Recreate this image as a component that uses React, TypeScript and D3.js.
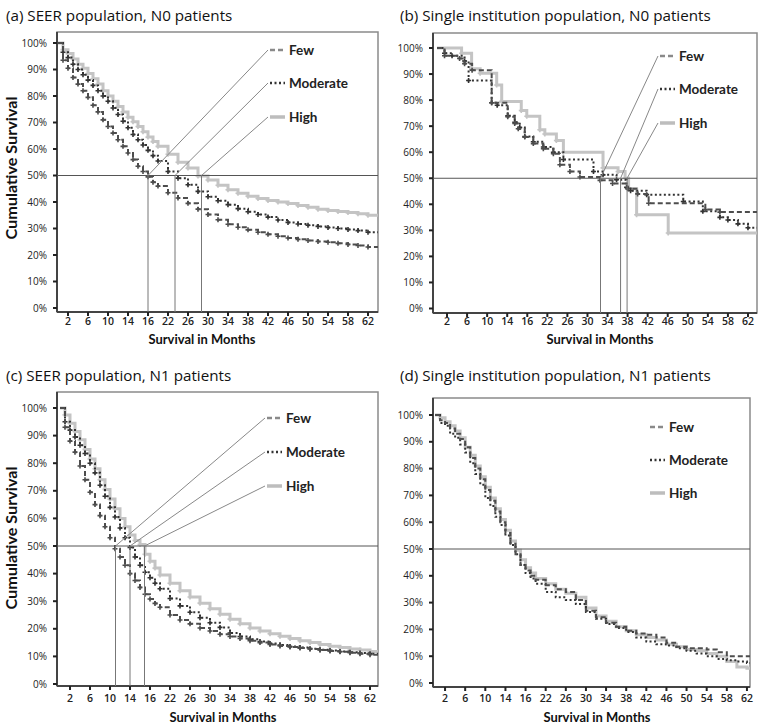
import React from "react";
import * as d3 from "d3";

// ---------- data ----------
const SERIES_NAMES = ["Few", "Moderate", "High"];

// monthly grid used for the SEER panels and panel (d)
const GRID_T = [0, 1, 2, 3, 4, 5, 6, 7, 8, 9, 10, 11, 12, 13, 14, 15, 16, 17, 18, 19, 20,
  22, 24, 26, 28, 30, 32, 34, 36, 38, 40, 42, 44, 46, 48, 50, 52, 54, 56, 58, 60, 62];

// (a) SEER, N0
const A_FEW = [100, 93.5, 90.5, 87, 84.5, 82, 79.5, 76.5, 74, 71, 68.5, 66, 63.5, 61, 58.5, 56, 53.5, 51.5, 49.5, 47.5, 46,
  43.5, 41.5, 39.5, 37.3, 35.3, 33.3, 31.6, 30.5, 29.5, 28.6, 27.8, 27.1, 26.4, 25.9, 25.5, 25.1, 24.8, 24.4, 24, 23.6, 23];
const A_MOD = [100, 96.5, 94.5, 92, 90, 88, 86, 84, 82, 80, 78, 75.5, 73, 70.5, 68, 65.5, 63.5, 61.5, 59.5, 57.5, 55.5,
  51.5, 49, 46.5, 44, 42, 40.5, 39, 37.5, 36.3, 35.3, 34.3, 33.2, 32.3, 31.7, 31.2, 30.8, 30.4, 30, 29.6, 29.2, 28.6];
const A_HIGH = [100, 97.5, 96, 94, 92, 90.5, 88.5, 86.5, 84.5, 82, 80, 78, 76, 74, 72, 70.3, 68.5, 66.5, 64.5, 62.8, 61,
  58, 55, 52.8, 49.8, 48.3, 46.3, 44.6, 43.3, 42.2, 41.3, 40.6, 40, 39.4, 38.7, 38, 37.3, 36.8, 36.4, 36, 35.6, 35];
const A_MEDIANS = [18, 23.4, 28.7];

// (b) single institution, N0 (irregular Kaplan-Meier steps)
const B_FEW_T = [0, 1.5, 4.5, 5.5, 7, 10.9, 14.1, 15.5, 16.2, 17.5, 19.2, 21.2, 23.2, 24.5, 26.5, 28.5, 32.5, 35, 38, 40, 42.2, 53.5, 56.4];
const B_FEW_S = [100, 97, 96, 94, 91.5, 79, 73.6, 71, 69, 65.8, 63.3, 61.3, 59.4, 55.2, 52.6, 50.5, 49.2, 48, 46, 44, 40.4, 38, 37];
const B_MOD_T = [0, 1.5, 3, 5.5, 6.3, 10.9, 12, 14.1, 15.5, 16.5, 17.5, 19.2, 21.2, 23.2, 25.2, 31.2, 33.1, 35.8, 37.8, 38.6, 41.8, 49.1, 53, 56.4, 58, 60, 62];
const B_MOD_S = [100, 98, 97, 95, 87.5, 79, 78, 74, 71.5, 69.5, 66, 64, 62, 60, 57.2, 52.6, 51.3, 49.4, 46.5, 45.2, 43.7, 41.1, 37.3, 35, 34, 32.5, 31];
const B_HIGH_T = [0, 4.9, 6.9, 8.6, 11.9, 12.9, 16.8, 17.9, 20.5, 21.5, 23.8, 25.2, 33.1, 36.1, 37.5, 38.2, 39.8, 46.1];
const B_HIGH_S = [100, 98, 92, 90.3, 85.8, 79.5, 76, 73.8, 68.6, 67, 64.5, 60, 54, 52.6, 50, 46, 36, 29];
const B_MEDIANS = [32.6, 36.6, 37.9];

// (c) SEER, N1
const C_FEW = [100, 93, 88, 84, 79, 74, 69.5, 65, 61, 57, 53, 49, 46, 43, 40, 37.5, 35, 32.5, 30.8, 29.2, 27.8,
  25, 23.2, 21.8, 20.3, 19.2, 18, 17.2, 16.5, 15.7, 15, 14.3, 13.8, 13.4, 13, 12.7, 12.3, 12, 11.7, 11.3, 11, 10.6];
const C_MOD = [100, 95, 92, 89.5, 86.5, 83.5, 80, 76.5, 72, 68, 64, 60.5, 56.5, 53, 49.5, 46, 43, 40.5, 38.5, 36.5, 34.5,
  31, 28.3, 26, 24, 22.2, 20.5, 18.5, 17.2, 16.2, 15.4, 14.7, 14.1, 13.6, 13.2, 12.8, 12.4, 12.1, 11.8, 11.5, 11.2, 11];
const C_HIGH = [100, 97.5, 94.5, 91.5, 88.5, 85, 81.5, 78, 74, 70.5, 67, 63.5, 60, 57, 54, 52, 50.5, 47, 44.5, 42, 39.5,
  36.5, 33.8, 31.5, 29.3, 27.3, 25.3, 23.5, 21.8, 20.3, 19.2, 18.2, 17.3, 16.5, 15.7, 15, 14.3, 13.7, 13.2, 12.7, 12.3, 11.8];
const C_MEDIANS = [11.1, 14, 16.9];

// (d) single institution, N1
const D_FEW = [100, 98, 97, 95, 93, 91, 88, 84, 80, 76, 72, 68, 64, 60, 56, 52, 48, 44, 42, 40, 38.5,
  36.5, 35, 34, 31, 27, 24.5, 22.5, 21, 19.5, 18.5, 18, 17, 15, 13.5, 13, 13, 12.5, 11.5, 10, 10, 10];
const D_MOD = [100, 97, 96, 93, 91.5, 89, 86, 82, 78, 74, 69, 66, 62, 59, 55, 51.5, 48, 44, 41, 39, 37,
  34, 32, 31, 29.5, 26.5, 24, 22, 20.5, 19, 17, 15.5, 14.5, 14, 13, 12, 11, 10, 9, 8.5, 8, 7.5];
const D_HIGH = [100, 99, 97.5, 96, 94, 91.5, 88, 85, 81, 77, 73, 69, 65, 61, 57, 53, 49.5, 46, 43, 41, 39,
  37, 35, 33.5, 32, 28, 25, 23, 21, 19.5, 18, 17, 16, 14.5, 13.5, 12.5, 12, 11, 10, 8, 6, 5.5];

const X_TICK_MONTHS = [2, 6, 10, 14, 18, 22, 26, 30, 34, 38, 42, 46, 50, 54, 58, 62];
const X_TICK_LABELS = ["2", "6", "10", "14", "16", "22", "26", "30", "34", "38", "42", "46", "50", "54", "58", "62"];
const Y_TICKS = [0, 10, 20, 30, 40, 50, 60, 70, 80, 90, 100];

const TITLES = [
  "(a) SEER population, N0 patients",
  "(b) Single institution population, N0 patients",
  "(c) SEER population, N1 patients",
  "(d) Single institution population, N1 patients",
];

// ---------- styles / layout ----------
const STYLE: Record<string, { stroke: string; width: number; dash: string | null; legend: string }> = {
  Few: { stroke: "#4d4d4d", width: 2, dash: "5 3", legend: "#8a8a8a" },
  Moderate: { stroke: "#333", width: 2, dash: "2 2.5", legend: "#333" },
  High: { stroke: "#c4c4c4", width: 3, dash: null, legend: "#bdbdbd" },
};
const FONT = "'Open Sans', 'Noto Sans', sans-serif";
const NARROW = "Lato, 'Open Sans', sans-serif";

type Series = { name: string; t: number[]; s: number[] };
type PanelCfg = {
  id: string; title: string; tx: number; ty: number;
  fx0: number; fx1: number; fy0: number; fy1: number;
  xr: [number, number]; yr: [number, number];
  series: Series[]; medians: number[] | null; marks: boolean;
  legX: number; legY: number[];
  ylab: { x: number; y: number } | null; xlabX: number; xlabY: number; tickY: number;
};

const PANELS: PanelCfg[] = [
  {
    id: "a", title: TITLES[0], tx: 6, ty: 21, fx0: 57, fx1: 378, fy0: 32, fy1: 312,
    xr: [58, 378], yr: [308, 43],
    series: [
      { name: "High", t: GRID_T, s: A_HIGH },
      { name: "Moderate", t: GRID_T, s: A_MOD },
      { name: "Few", t: GRID_T, s: A_FEW },
    ],
    medians: A_MEDIANS, marks: true, legX: 270, legY: [50, 83, 117],
    ylab: { x: 17, y: 168 }, xlabX: 202, xlabY: 344, tickY: 325,
  },
  {
    id: "b", title: TITLES[1], tx: 400, ty: 21, fx0: 433, fx1: 757, fy0: 33, fy1: 313,
    xr: [437, 758], yr: [308.5, 48],
    series: [
      { name: "High", t: B_HIGH_T, s: B_HIGH_S },
      { name: "Moderate", t: B_MOD_T, s: B_MOD_S },
      { name: "Few", t: B_FEW_T, s: B_FEW_S },
    ],
    medians: B_MEDIANS, marks: true, legX: 660, legY: [56, 89, 123],
    ylab: null, xlabX: 600, xlabY: 344, tickY: 325,
  },
  {
    id: "c", title: TITLES[2], tx: 6, ty: 381, fx0: 57, fx1: 378, fy0: 392, fy1: 686,
    xr: [60, 380], yr: [684, 408],
    series: [
      { name: "High", t: GRID_T, s: C_HIGH },
      { name: "Moderate", t: GRID_T, s: C_MOD },
      { name: "Few", t: GRID_T, s: C_FEW },
    ],
    medians: C_MEDIANS, marks: true, legX: 267, legY: [418, 452, 486],
    ylab: { x: 17, y: 538 }, xlabX: 223, xlabY: 722, tickY: 702,
  },
  {
    id: "d", title: TITLES[3], tx: 400, ty: 381, fx0: 433, fx1: 750, fy0: 398, fy1: 687,
    xr: [435, 757], yr: [683, 415],
    series: [
      { name: "High", t: GRID_T, s: D_HIGH },
      { name: "Moderate", t: GRID_T, s: D_MOD },
      { name: "Few", t: GRID_T, s: D_FEW },
    ],
    medians: null, marks: false, legX: 650, legY: [427, 460, 493],
    ylab: null, xlabX: 597, xlabY: 722, tickY: 702,
  },
];

function Panel({ cfg }: { cfg: PanelCfg }) {
  const x = d3.scaleLinear().domain([0, 64]).range(cfg.xr);
  const y = d3.scaleLinear().domain([0, 100]).range(cfg.yr);
  const line = d3.line<[number, number]>().x((d) => x(d[0])).y((d) => y(d[1])).curve(d3.curveStepAfter);
  const xEnd = x.invert(cfg.fx1);
  const clipId = "clip-" + cfg.id;
  const y50 = y(50);
  const legendIndex = (n: string) => SERIES_NAMES.indexOf(n);

  return (
    <g>
      <defs>
        <clipPath id={clipId}>
          <rect x={cfg.fx0} y={cfg.fy0} width={cfg.fx1 - cfg.fx0} height={cfg.fy1 - cfg.fy0} />
        </clipPath>
      </defs>
      <text x={cfg.tx} y={cfg.ty} fontFamily={FONT} fontSize={15.2} fill="#111">{cfg.title}</text>

      {/* frame */}
      <rect x={cfg.fx0} y={cfg.fy0} width={cfg.fx1 - cfg.fx0} height={cfg.fy1 - cfg.fy0}
        fill="#fff" stroke="#8a8a8a" strokeWidth={1.5} />
      <line x1={cfg.fx0} x2={cfg.fx0} y1={cfg.fy0} y2={cfg.fy1} stroke="#444" strokeWidth={2} />
      <line x1={cfg.fx0} x2={cfg.fx1} y1={cfg.fy1} y2={cfg.fy1} stroke="#444" strokeWidth={2} />

      {/* y axis */}
      {Y_TICKS.map((v) => (
        <g key={"y" + v}>
          <line x1={cfg.fx0 - 4} x2={cfg.fx0} y1={y(v)} y2={y(v)} stroke="#222" strokeWidth={2} />
          <text x={cfg.fx0 - 10} y={y(v)} dy="0.35em" textAnchor="end" fontFamily={FONT}
            fontSize={10} fill="#222">{v + "%"}</text>
        </g>
      ))}
      {/* x axis */}
      {X_TICK_MONTHS.map((m, i) => (
        <g key={"x" + m}>
          <line x1={x(m)} x2={x(m)} y1={cfg.fy1} y2={cfg.fy1 + 4} stroke="#222" strokeWidth={2} />
          <text x={x(m)} y={cfg.tickY} textAnchor="middle" fontFamily={FONT} fontSize={10.5}
            fontWeight={600} fill="#222">{X_TICK_LABELS[i]}</text>
        </g>
      ))}
      <text x={cfg.xlabX} y={cfg.xlabY} textAnchor="middle" fontFamily={NARROW} fontSize={14}
        fontWeight={700} fill="#111" textLength={107} lengthAdjust="spacingAndGlyphs">Survival in Months</text>
      {cfg.ylab && (
        <text transform={`translate(${cfg.ylab.x},${cfg.ylab.y}) rotate(-90)`} textAnchor="middle"
          fontFamily={NARROW} fontSize={14.5} fontWeight={700} fill="#111" textLength={143}
          lengthAdjust="spacingAndGlyphs">Cumulative Survival</text>
      )}

      {/* curves */}
      <g clipPath={`url(#${clipId})`}>
        {cfg.series.map((se) => {
          const st = STYLE[se.name];
          const pts: [number, number][] = se.t.map((m, i) => [m, se.s[i]] as [number, number]);
          pts.push([xEnd, se.s[se.s.length - 1]]);
          const marks = cfg.marks
            ? se.t.slice(1).map((m, i) => {
                const px = x(m), py = y(se.s[i + 1]);
                return `M${px - 2.5},${py}h5M${px},${py - 2.5}v5`;
              }).join("")
            : "";
          return (
            <g key={se.name}>
              <path d={line(pts) || ""} fill="none" stroke={st.stroke} strokeWidth={st.width}
                strokeDasharray={st.dash || undefined} />
              {marks && <path d={marks} fill="none" stroke={st.stroke} strokeWidth={1.6} />}
            </g>
          );
        })}
      </g>

      {/* 50% line */}
      <line x1={cfg.fx0} x2={cfg.fx1} y1={y50} y2={y50} stroke="#555" strokeWidth={1} />

      {/* medians and leader lines */}
      {cfg.medians && cfg.medians.map((m, i) => (
        <g key={"med" + i}>
          <line x1={x(m)} x2={x(m)} y1={y50} y2={cfg.fy1} stroke="#777" strokeWidth={1} />
          <line x1={cfg.legX - 2} y1={cfg.legY[i]} x2={x(m)} y2={y50} stroke="#888" strokeWidth={1} />
        </g>
      ))}

      {/* legend */}
      {SERIES_NAMES.map((n) => {
        const st = STYLE[n];
        const ly = cfg.legY[legendIndex(n)];
        return (
          <g key={"leg" + n}>
            <line x1={cfg.legX} x2={cfg.legX + 15} y1={ly} y2={ly} stroke={st.legend}
              strokeWidth={n === "High" ? 3.5 : 2.5} strokeDasharray={st.dash || undefined} />
            <text x={cfg.legX + 19} y={ly} dy="0.35em" fontFamily={NARROW} fontSize={13.5}
              fontWeight={700} fill="#222">{n}</text>
          </g>
        );
      })}
    </g>
  );
}

export default function App() {
  return (
    <svg width={764} height={728} style={{ position: "absolute", left: 0, top: 0, background: "#fff" }}>
      <rect x={0} y={0} width={764} height={728} fill="#fff" />
      {PANELS.map((p) => <Panel key={p.id} cfg={p} />)}
    </svg>
  );
}
